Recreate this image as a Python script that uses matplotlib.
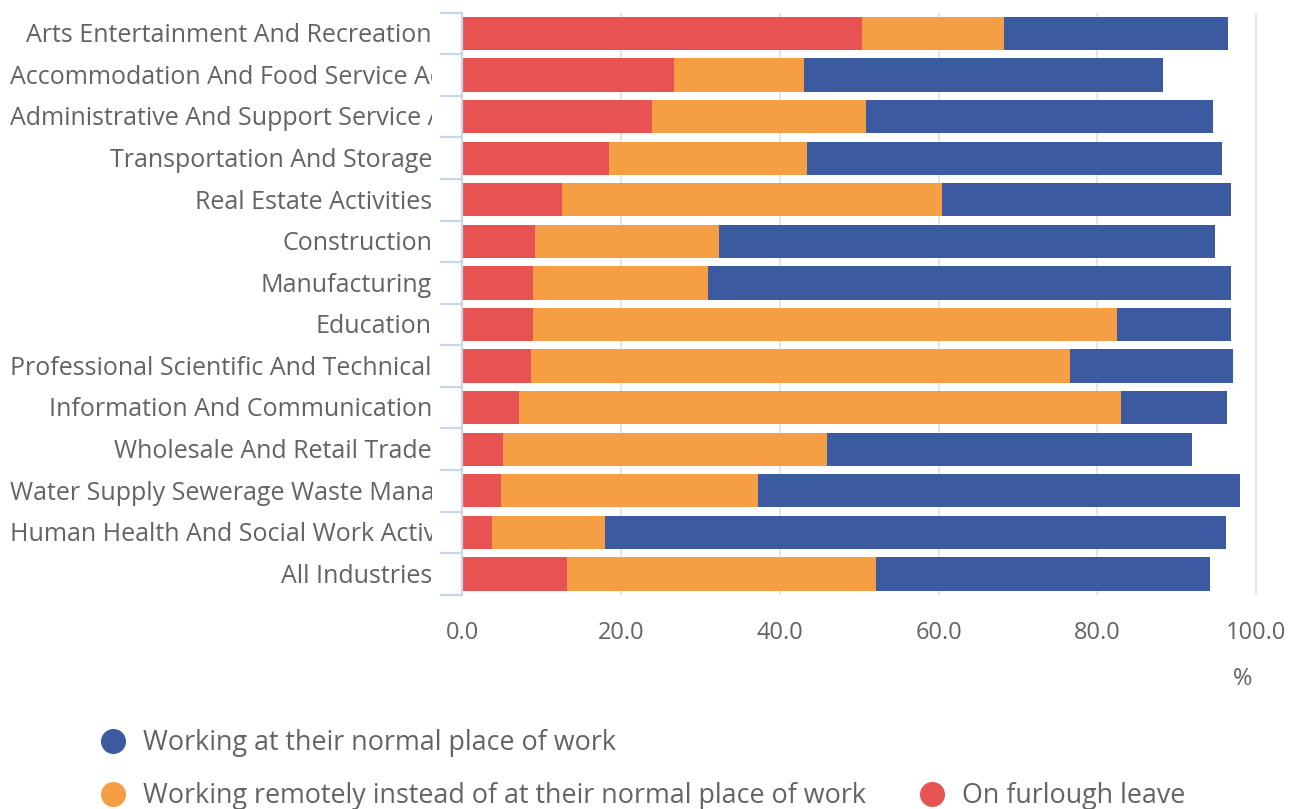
import matplotlib
matplotlib.use('Agg')
import matplotlib.pyplot as plt
from matplotlib.lines import Line2D
from matplotlib.transforms import Bbox, ScaledTranslation, blended_transform_factory

# DATOS (porcentaje de trabajadores por sector)
sectores = ['Arts Entertainment And Recreation',
            'Accommodation And Food Service Activities',
            'Administrative And Support Service Activities',
            'Transportation And Storage',
            'Real Estate Activities',
            'Construction',
            'Manufacturing',
            'Education',
            'Professional Scientific And Technical Activities',
            'Information And Communication',
            'Wholesale And Retail Trade',
            'Water Supply Sewerage Waste Management And Remediation Activities',
            'Human Health And Social Work Activities',
            'All Industries']
furlough = [50.4, 26.7, 23.9, 18.5, 12.6, 9.2, 8.9, 8.9, 8.7, 7.2, 5.2, 4.9, 3.8, 13.2]
remoto = [17.8, 16.4, 26.9, 24.9, 47.8, 23.2, 22.1, 73.5, 67.8, 75.8, 40.7, 32.3, 14.2, 38.9]
normal = [28.2, 45.2, 43.7, 52.3, 36.4, 62.4, 65.8, 14.4, 20.6, 13.3, 46.0, 60.7, 78.2, 42.1]
x_ticks = [0, 20, 40, 60, 80, 100]
series = ['Working at their normal place of work',
          'Working remotely instead of at their normal place of work',
          'On furlough leave']

C_ROJO = '#E75353'
C_NARANJA = '#F59E44'
C_AZUL = '#3C5AA0'
C_TEXTO = '#636363'
C_EJE = '#C9D5EA'

plt.rcParams['font.family'] = ['Open Sans', 'DejaVu Sans']

W, H = 1296, 809
fig = plt.figure(figsize=(W / 100, H / 100), dpi=100)
ax = fig.add_axes([462.1 / W, 1 - 594.8 / H, 810.1 / W, 582.1 / H])

y = list(range(len(sectores)))
izq2 = furlough
izq3 = [a + b for a, b in zip(furlough, remoto)]
ax.barh(y, furlough, height=0.8, color=C_ROJO, zorder=2)
ax.barh(y, remoto, left=izq2, height=0.8, color=C_NARANJA, zorder=2)
ax.barh(y, normal, left=izq3, height=0.8, color=C_AZUL, zorder=2)

ax.set_xlim(0, 102)
ax.set_ylim(len(sectores) - 0.5, -0.5)

# eje x
ax.set_xticks(x_ticks)
ax.set_xticklabels([f'{v:.1f}' for v in x_ticks])
ax.tick_params(axis='x', length=0, pad=19, labelsize=17, labelcolor=C_TEXTO)
for v in x_ticks[1:]:
    ax.axvline(v, color='#E6E6E6', lw=1.5, zorder=1)

# eje y: marcas en los limites de categoria
ax.set_yticks([i - 0.5 for i in range(len(sectores) + 1)])
ax.set_yticklabels([])
ax.tick_params(axis='y', length=16, width=1.6, color=C_EJE, direction='out')
for s in ['top', 'right', 'bottom']:
    ax.spines[s].set_visible(False)
ax.spines['left'].set_color(C_EJE)
ax.spines['left'].set_linewidth(1.6)

# etiquetas de categoria, recortadas como en el original
trans = blended_transform_factory(fig.transFigure, ax.transData) + \
    ScaledTranslation(0, -8.8 / 100, fig.dpi_scale_trans)
caja = Bbox([[10, 0], [432, H]])
fig.canvas.draw()
r = fig.canvas.get_renderer()
for i, nombre in enumerate(sectores):
    t = ax.text(432 / W, i, nombre, transform=trans, ha='right', va='baseline',
                fontsize=18, color=C_TEXTO)
    if t.get_window_extent(r).x0 < 10:
        t.set_x(10.5 / W)
        t.set_ha('left')
    t.set_clip_box(caja)
    t.set_clip_on(True)

fig.text(1243 / W, 1 - 679 / H, '%', ha='center', va='center', fontsize=17, color=C_TEXTO)

# leyenda
def marca(c):
    return Line2D([], [], marker='o', ls='', markersize=17, color=c)

leg_kw = dict(loc='center left', frameon=False, fontsize=19.4, labelcolor=C_TEXTO,
              handletextpad=0.51, handlelength=1.2, borderaxespad=0, borderpad=0)
fig.legend([marca(C_AZUL)], series[:1], bbox_to_anchor=(96.8 / W, 1 - 743 / H), **leg_kw)
fig.legend([marca(C_NARANJA), marca(C_ROJO)], series[1:], ncol=2,
           bbox_to_anchor=(96.8 / W, 1 - 796 / H), columnspacing=1.85, **leg_kw)

fig.savefig('out.png', dpi=100)
